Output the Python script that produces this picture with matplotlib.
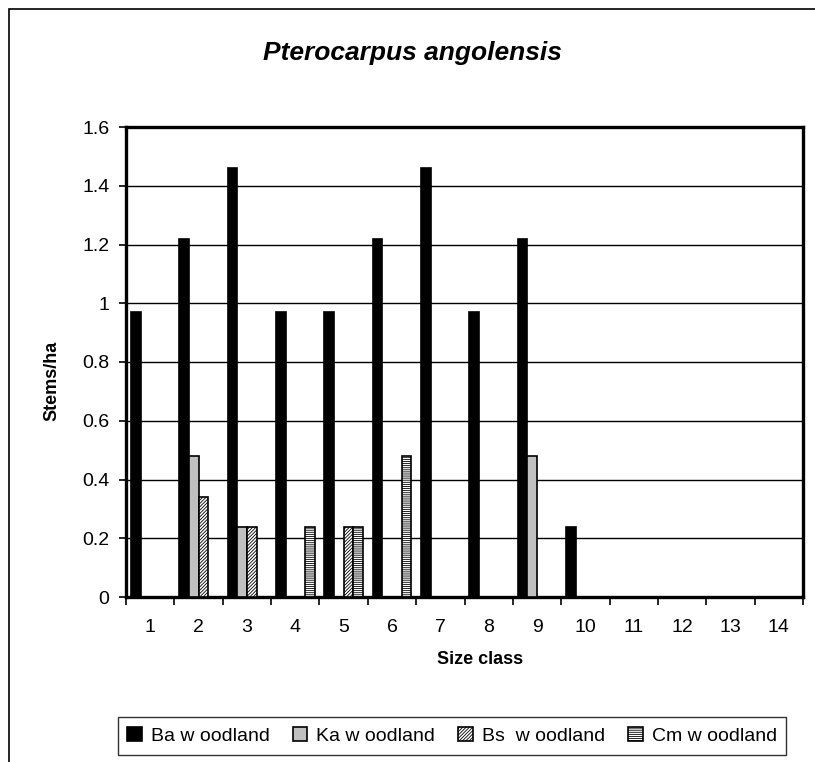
import numpy as np
import matplotlib.pyplot as plt
from matplotlib.patches import Rectangle

plt.rcParams['font.family'] = ['Liberation Sans', 'DejaVu Sans']
plt.rcParams['hatch.linewidth'] = 0.6

# Данные
size_classes = [str(i) for i in range(1, 15)]
series_names = ['Ba w oodland', 'Ka w oodland', 'Bs  w oodland', 'Cm w oodland']
ba = [0.97, 1.22, 1.46, 0.97, 0.97, 1.22, 1.46, 0.97, 1.22, 0.24, 0, 0, 0, 0]
ka = [0, 0.48, 0.24, 0, 0, 0, 0, 0, 0.48, 0, 0, 0, 0, 0]
bs = [0, 0.34, 0.24, 0, 0.24, 0, 0, 0, 0, 0, 0, 0, 0, 0]
cm = [0, 0, 0, 0.24, 0.24, 0.48, 0, 0, 0, 0, 0, 0, 0, 0]
y_ticks = [0, 0.2, 0.4, 0.6, 0.8, 1, 1.2, 1.4, 1.6]
y_tick_labels = ['0', '0.2', '0.4', '0.6', '0.8', '1', '1.2', '1.4', '1.6']

styles = [
    dict(facecolor='black', hatch=None),
    dict(facecolor='#c0c0c0', hatch=None),
    dict(facecolor='white', hatch='//////////'),
    dict(facecolor='white', hatch='--------'),
]

fig = plt.figure(figsize=(8.15, 7.62), dpi=100)
ax = fig.add_axes([126 / 815, 1 - 597 / 762, (803 - 126) / 815, (597 - 127) / 762])

# рамка всей диаграммы
fig.patches.append(Rectangle((9 / 815, -0.01), 810 / 815, 1 - 9 / 762 + 0.01,
                             transform=fig.transFigure, fill=False,
                             edgecolor='black', linewidth=1.2))

x = np.arange(len(size_classes))
width = 0.2
for i, (vals, name, st) in enumerate(zip([ba, ka, bs, cm], series_names, styles)):
    ax.bar(x - 0.3 + i * width, vals, width, label=name,
           facecolor=st['facecolor'], hatch=st['hatch'],
           edgecolor='black', linewidth=1.2, zorder=3)

ax.set_xlim(-0.5, len(size_classes) - 0.5)
ax.set_ylim(0, 1.6)
ax.set_yticks(y_ticks)
ax.set_yticklabels(y_tick_labels, fontsize=14)
ax.set_xticks(x)
ax.set_xticklabels(size_classes, fontsize=14)
ax.tick_params(axis='x', length=0, pad=16)
ax.set_xticks(np.arange(-0.5, len(size_classes)), minor=True)
ax.tick_params(axis='x', which='minor', length=6, width=1.2, direction='out')
ax.tick_params(axis='y', length=5, width=1.2, direction='out', pad=7)
ax.yaxis.grid(True, color='black', linewidth=1, zorder=0)
ax.set_axisbelow(True)
for s in ax.spines.values():
    s.set_linewidth(2.4)

ax.set_ylabel('Stems/ha', fontsize=13, fontweight='bold')
ax.yaxis.set_label_coords(-0.097, 0.46)
ax.set_xlabel('Size class', fontsize=13, fontweight='bold')
ax.xaxis.set_label_coords(0.523, -0.115)
fig.text(412 / 815, 1 - 53 / 762, 'Pterocarpus angolensis', ha='center', va='center',
         fontsize=19, fontweight='bold', fontstyle='italic')

leg = fig.legend(loc='center', bbox_to_anchor=(452 / 815, 1 - 736 / 762), ncol=4,
                 fontsize=14, frameon=True, fancybox=False, edgecolor='black',
                 handlelength=0.75, handleheight=0.75, handletextpad=0.45,
                 columnspacing=1.2, borderpad=0.5)
leg.get_frame().set_linewidth(1)

plt.savefig('out.png', dpi=100)
